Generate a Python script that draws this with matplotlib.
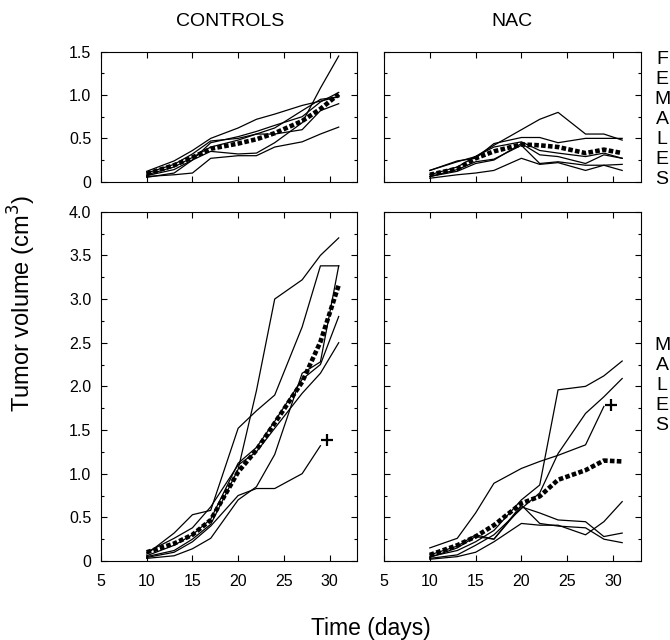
import numpy as np
import matplotlib
matplotlib.use("Agg")
import matplotlib.pyplot as plt
from matplotlib.ticker import MultipleLocator, FuncFormatter

plt.rcParams['font.family'] = ['Liberation Sans', 'DejaVu Sans']

# ---------------- data ----------------
days = [10, 13, 15, 17, 20, 22, 24, 27, 29, 31]

# Females, controls
fc_1 = [0.12, 0.24, 0.36, 0.50, 0.62, 0.72, 0.78, 0.88, 0.93, 0.98]
fc_2 = [0.07, 0.14, 0.25, 0.35, 0.32, 0.33, 0.45, 0.68, 1.08, 1.45]
fc_3 = [0.05, 0.10, 0.25, 0.45, 0.52, 0.58, 0.65, 0.75, 0.92, 1.03]
fc_4 = [0.08, 0.17, 0.28, 0.40, 0.48, 0.55, 0.55, 0.60, 0.82, 0.90]
fc_5 = [0.06, 0.08, 0.10, 0.27, 0.30, 0.30, 0.40, 0.46, 0.55, 0.63]
fc_6 = [0.10, 0.20, 0.32, 0.47, 0.50, 0.55, 0.62, 0.82, 0.95, 0.98]
fc_mean = [0.09, 0.19, 0.28, 0.38, 0.44, 0.49, 0.56, 0.70, 0.84, 1.01]

# Females, NAC
fn_1 = [0.13, 0.23, 0.29, 0.42, 0.60, 0.72, 0.80, 0.55, 0.55, 0.48]
fn_2 = [0.13, 0.24, 0.27, 0.44, 0.51, 0.51, 0.45, 0.50, 0.50, 0.50]
fn_3 = [0.04, 0.08, 0.10, 0.13, 0.27, 0.20, 0.22, 0.13, 0.19, 0.20]
fn_4 = [0.06, 0.14, 0.23, 0.26, 0.42, 0.21, 0.23, 0.19, 0.19, 0.13]
fn_5 = [0.08, 0.17, 0.29, 0.40, 0.46, 0.36, 0.33, 0.29, 0.33, 0.27]
fn_6 = [0.06, 0.12, 0.21, 0.25, 0.44, 0.31, 0.29, 0.21, 0.31, 0.27]
fn_mean = [0.08, 0.15, 0.27, 0.35, 0.43, 0.42, 0.40, 0.33, 0.37, 0.33]

# Males, controls
mc_1 = [0.05, 0.12, 0.25, 0.42, 1.05, 1.95, 3.00, 3.22, 3.50, 3.70]
mc_2 = [0.08, 0.32, 0.53, 0.58, 1.52, 1.72, 1.90, 2.68, 3.38, 3.38]
mc_3 = [0.03, 0.06, 0.14, 0.26, 0.70, 0.85, 1.22, 2.15, 2.28, 3.38]
mc_4 = [0.10, 0.26, 0.38, 0.62, 1.10, 1.25, 1.52, 1.92, 2.15, 2.50]
mc_5 = [0.06, 0.18, 0.30, 0.48, 1.12, 1.30, 1.60, 2.08, 2.25, 2.80]
mc_dead = [0.04, 0.10, 0.22, 0.40, 0.75, 0.83, 0.83, 1.00, 1.32]
mc_mean = [0.10, 0.20, 0.30, 0.47, 1.02, 1.27, 1.58, 2.05, 2.51, 3.16]
mc_cross = (29.7, 1.38)

# Males, NAC
mn_1 = [0.05, 0.12, 0.22, 0.35, 0.70, 0.87, 1.96, 2.00, 2.12, 2.29]
mn_2 = [0.03, 0.07, 0.18, 0.30, 0.60, 0.78, 1.23, 1.69, 1.88, 2.09]
mn_3 = [0.02, 0.05, 0.10, 0.22, 0.43, 0.41, 0.41, 0.30, 0.45, 0.68]
mn_4 = [0.07, 0.17, 0.30, 0.25, 0.62, 0.55, 0.47, 0.45, 0.28, 0.32]
mn_5 = [0.04, 0.15, 0.28, 0.25, 0.64, 0.43, 0.40, 0.38, 0.25, 0.21]
mn_dead = [0.15, 0.26, 0.55, 0.89, 1.06, 1.14, 1.21, 1.33, 1.77]
mn_mean = [0.07, 0.18, 0.28, 0.41, 0.66, 0.74, 0.93, 1.04, 1.15, 1.14]
mn_cross = (29.8, 1.79)

col_titles = ["CONTROLS", "NAC"]
row_titles = ["FEMALES", "MALES"]
x_ticks = [5, 10, 15, 20, 25, 30]

# ---------------- figure ----------------
W, H = 670, 640
fig = plt.figure(figsize=(W / 100, H / 100), dpi=100)

def frac_rect(x0, x1, ytop, ybot):
    return [x0 / W, 1 - ybot / H, (x1 - x0) / W, (ybot - ytop) / H]

ax_fc = fig.add_axes(frac_rect(101, 357, 51.7, 181.7))
ax_fn = fig.add_axes(frac_rect(384, 640.5, 51.7, 181.7))
ax_mc = fig.add_axes(frac_rect(101, 357, 211.7, 561))
ax_mn = fig.add_axes(frac_rect(384, 640.5, 211.7, 561))

thin = dict(color='black', lw=0.9)
meanstyle = dict(color='black', lw=3.3, linestyle=(0, (1.0, 0.5)), dash_capstyle='butt')

def fmt(v, pos):
    if abs(v) < 1e-9:
        return "0"
    return f"{v:.1f}"

def style(ax, ymax, show_y, show_x):
    ax.set_xlim(5, 33)
    ax.set_ylim(0, ymax)
    ax.set_xticks(x_ticks)
    ax.yaxis.set_major_locator(MultipleLocator(0.5))
    ax.yaxis.set_minor_locator(MultipleLocator(0.25))
    ax.yaxis.set_major_formatter(FuncFormatter(fmt))
    ax.tick_params(which='both', direction='in', top=True, right=True,
                   labelsize=11.5, width=0.8)
    ax.tick_params(which='major', length=4)
    ax.tick_params(which='minor', length=2.5)
    ax.tick_params(axis='y', pad=7)
    ax.tick_params(axis='x', pad=9)
    if not show_y:
        ax.tick_params(axis='y', labelleft=False)
    if not show_x:
        ax.tick_params(axis='x', labelbottom=False)
    for s in ax.spines.values():
        s.set_linewidth(0.8)

for ys in [fc_1, fc_2, fc_3, fc_4, fc_5, fc_6]:
    ax_fc.plot(days, ys, **thin)
ax_fc.plot(days, fc_mean, **meanstyle)

for ys in [fn_1, fn_2, fn_3, fn_4, fn_5, fn_6]:
    ax_fn.plot(days, ys, **thin)
ax_fn.plot(days, fn_mean, **meanstyle)

for ys in [mc_1, mc_2, mc_3, mc_4, mc_5]:
    ax_mc.plot(days, ys, **thin)
ax_mc.plot(days[:len(mc_dead)], mc_dead, **thin)
ax_mc.plot(days, mc_mean, **meanstyle)
ax_mc.plot([mc_cross[0]], [mc_cross[1]], marker='+', color='black', ms=9, mew=1.6)

for ys in [mn_1, mn_2, mn_3, mn_4, mn_5]:
    ax_mn.plot(days, ys, **thin)
ax_mn.plot(days[:len(mn_dead)], mn_dead, **thin)
ax_mn.plot(days, mn_mean, **meanstyle)
ax_mn.plot([mn_cross[0]], [mn_cross[1]], marker='+', color='black', ms=9, mew=1.6)

style(ax_fc, 1.5, True, False)
style(ax_fn, 1.5, False, False)
style(ax_mc, 4.0, True, True)
style(ax_mn, 4.0, False, True)

# column titles
fig.text(230 / W, 1 - 21 / H, col_titles[0], ha='center', va='center', fontsize=14)
fig.text(512 / W, 1 - 21 / H, col_titles[1], ha='center', va='center', fontsize=14)

# row labels, stacked letters
def stacked(word, xc, yc, pitch=20):
    n = len(word)
    for i, ch in enumerate(word):
        y = yc + (i - (n - 1) / 2) * pitch
        fig.text(xc / W, 1 - y / H, ch, ha='center', va='center_baseline', fontsize=14)

stacked(row_titles[0], 662, 117)
stacked(row_titles[1], 662, 384)

fig.text(22 / W, 1 - 304 / H, "Tumor volume (cm$^3$)", rotation=90,
         ha='center', va='center', fontsize=17)
fig.text(371 / W, 1 - 628 / H, "Time (days)", ha='center', va='center', fontsize=16.5)

fig.savefig("out.png", dpi=100)
